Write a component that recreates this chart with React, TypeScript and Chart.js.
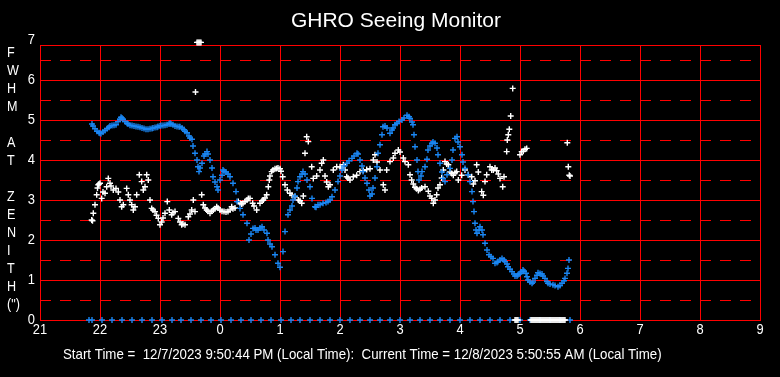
import { useEffect, useRef } from 'react';
import { Chart, registerables } from 'chart.js';

Chart.register(...registerables);

// Time axis: minutes after 21:00 (local time), 0..720 = 21:00..09:00
const hourLabels = ['21', '22', '23', '0', '1', '2', '3', '4', '5', '6', '7', '8', '9'];
const yLabels = ['0', '1', '2', '3', '4', '5', '6', '7'];
const halfLines = [0.5, 1.5, 2.5, 3.5, 4.5, 5.5, 6.5];
const yAxisTitle = ['F', 'W', 'H', 'M', '', 'A', 'T', '', 'Z', 'E', 'N', 'I', 'T', 'H', '(")'];
const titleText = 'GHRO Seeing Monitor';
const footerText = 'Start Time =  12/7/2023 9:50:44 PM (Local Time):  Current Time = 12/8/2023 5:50:55 AM (Local Time)';

// Blue series (FWHM, arcsec)
const blueT = [52, 53, 55, 57, 59, 60, 61, 63, 65, 67, 69, 70, 72, 74, 76, 78, 80, 81, 82, 83, 85, 87, 88, 90, 92, 94, 96, 98, 100, 102, 104, 106, 108, 110, 112, 113, 115, 117, 118, 120, 121, 123, 125, 127, 129, 130, 131, 133, 135, 137, 139, 140, 142, 144, 145, 147, 149, 150, 152, 153, 155, 157, 158, 159, 160, 162, 164, 165, 167, 168, 170, 172, 173, 175, 177, 178, 180, 182, 183, 184, 186, 188, 190, 193, 196, 197, 200, 203, 207, 209, 211, 213, 215, 216, 218, 220, 222, 224, 227, 228, 230, 232, 235, 238, 240, 243, 245, 248, 250, 252, 253, 255, 257, 258, 260, 262, 263, 265, 267, 270, 272, 275, 276, 278, 280, 283, 286, 288, 290, 292, 295, 298, 300, 302, 304, 307, 309, 312, 314, 317, 318, 320, 322, 323, 325, 327, 329, 330, 332, 333, 335, 337, 338, 340, 342, 343, 345, 347, 350, 352, 353, 355, 357, 359, 362, 364, 367, 369, 370, 372, 373, 374, 375, 377, 378, 379, 381, 382, 385, 387, 388, 390, 392, 393, 395, 397, 398, 400, 402, 403, 405, 407, 410, 412, 413, 415, 417, 418, 420, 422, 423, 425, 428, 430, 432, 433, 434, 435, 436, 437, 439, 440, 442, 443, 445, 447, 449, 451, 453, 455, 457, 458, 460, 462, 464, 465, 467, 468, 470, 472, 474, 475, 477, 478, 480, 481, 483, 484, 486, 487, 488, 490, 492, 493, 495, 497, 498, 500, 502, 503, 505, 507, 508, 510, 513, 515, 518, 520, 522, 524, 525, 527, 528, 529];
const blueV = [4.9, 4.85, 4.78, 4.72, 4.68, 4.67, 4.66, 4.7, 4.74, 4.78, 4.82, 4.85, 4.86, 4.87, 4.88, 4.96, 5.02, 5.07, 5.05, 5.02, 4.96, 4.92, 4.9, 4.87, 4.86, 4.85, 4.84, 4.83, 4.82, 4.8, 4.79, 4.77, 4.77, 4.78, 4.79, 4.8, 4.81, 4.82, 4.84, 4.85, 4.86, 4.86, 4.87, 4.88, 4.9, 4.92, 4.9, 4.88, 4.85, 4.84, 4.83, 4.83, 4.8, 4.76, 4.72, 4.68, 4.6, 4.55, 4.52, 4.35, 4.17, 4.0, 3.83, 3.71, 3.8, 3.92, 4.1, 4.15, 4.21, 4.15, 4.0, 3.8, 3.58, 3.45, 3.33, 3.25, 3.5, 3.62, 3.75, 3.72, 3.7, 3.65, 3.58, 3.42, 3.21, 2.96, 2.79, 2.63, 2.42, 2.0, 2.15, 2.29, 2.3, 2.25, 2.25, 2.3, 2.33, 2.25, 2.17, 2.0, 1.9, 1.83, 1.63, 1.42, 1.32, 1.71, 2.21, 2.63, 2.75, 2.85, 3.0, 3.1, 3.3, 3.46, 3.58, 3.65, 3.71, 3.65, 3.5, 3.33, 3.04, 2.83, 2.82, 2.88, 2.88, 2.92, 2.94, 2.96, 3.0, 3.08, 3.25, 3.46, 3.6, 3.75, 3.85, 3.92, 3.98, 4.04, 4.1, 4.17, 4.15, 4.0, 3.85, 3.71, 3.55, 3.42, 3.25, 3.1, 3.15, 3.3, 3.55, 3.83, 4.17, 4.38, 4.63, 4.83, 4.85, 4.8, 4.67, 4.75, 4.8, 4.88, 4.92, 4.96, 5.0, 5.05, 5.12, 5.08, 5.04, 4.95, 4.88, 4.63, 4.33, 4.0, 3.71, 3.5, 3.6, 3.71, 3.83, 4.02, 4.25, 4.35, 4.42, 4.45, 4.42, 4.3, 4.13, 3.92, 3.7, 3.54, 3.46, 3.63, 3.79, 4.0, 4.25, 4.54, 4.58, 4.45, 4.33, 4.13, 3.95, 3.79, 3.63, 3.46, 3.21, 2.96, 2.71, 2.42, 2.25, 2.17, 2.25, 2.33, 2.25, 2.13, 1.92, 1.75, 1.63, 1.58, 1.54, 1.42, 1.44, 1.46, 1.5, 1.54, 1.5, 1.46, 1.4, 1.33, 1.27, 1.21, 1.15, 1.1, 1.1, 1.13, 1.16, 1.2, 1.25, 1.22, 1.17, 1.08, 1.0, 0.95, 0.92, 0.95, 1.04, 1.12, 1.18, 1.16, 1.15, 1.1, 1.04, 0.96, 0.92, 0.9, 0.88, 0.86, 0.83, 0.86, 0.92, 0.98, 1.04, 1.17, 1.29, 1.5];

// Blue readings logged as zero
const blueZeroT = [49, 52, 62, 72, 82, 92, 102, 112, 122, 132, 141, 151, 161, 171, 181, 191, 201, 211, 221, 231, 241, 251, 260, 270, 280, 290, 300, 310, 320, 330, 340, 350, 360, 370, 380, 390, 400, 410, 420, 430, 440, 450, 460, 470, 480, 490, 500, 510, 520, 530];

// White series (FWHM, arcsec)
const whiteT = [51.7, 52.5, 53.3, 55, 56.7, 57.5, 58.3, 59, 60, 61.7, 63, 65, 66.7, 68.3, 70, 71, 73.3, 76, 78.3, 80, 81.7, 83.3, 86.7, 88.3, 90, 91.7, 93.3, 95, 96.7, 99.3, 101.7, 103.3, 105, 106.7, 108.3, 110, 111.7, 113, 115, 116.5, 118.3, 120, 121.7, 123, 125, 127.3, 129.3, 131.7, 133, 135, 138.3, 140, 141.7, 143, 145, 148.3, 150, 151.7, 153.3, 155, 155.5, 157, 158, 159, 160, 161, 161.7, 163.3, 165, 166.7, 168, 170, 171.5, 173.3, 175, 176.7, 178, 180, 182, 184, 186, 188, 190, 191.7, 193, 195, 198.3, 200, 201.7, 203, 205, 207, 208.3, 210, 212.7, 214, 216.7, 220, 222, 223.3, 225, 226.7, 228.3, 229.3, 230, 231.7, 233, 235, 236.7, 238, 240, 241, 242.7, 245, 247.3, 250, 252, 255, 258.3, 260, 261.7, 263.3, 265, 266.7, 268.3, 271.7, 273.3, 276.7, 280, 281.7, 283.3, 285, 286.7, 288.3, 290, 293.3, 296.7, 300, 301.7, 303.3, 305, 306.7, 308, 310, 313.3, 316.7, 320, 323.3, 326.7, 330, 333.3, 335, 337, 340, 343.3, 345, 346.7, 350, 353.3, 355, 358.3, 360, 363.3, 365, 368.3, 370, 371.7, 373.3, 375, 376.5, 378.3, 380, 381.7, 385, 388.3, 390, 391.7, 393.3, 395, 396.7, 398, 400, 401.7, 403.3, 405, 406.7, 408.3, 410, 411.7, 413.3, 415, 416.7, 418.3, 421.7, 425, 428.3, 431.7, 433.3, 435, 436.7, 438.3, 441.7, 443.3, 445, 446.7, 450, 451.7, 453.3, 455, 456.7, 458.3, 460, 462.7, 464, 466.7, 467.3, 468.3, 469.3, 470.7, 472.7, 480, 481.7, 483.3, 485, 486.7, 527.3, 528.3, 529.3, 530];
const whiteV = [2.5, 2.48, 2.67, 2.88, 3.13, 3.3, 3.38, 3.4, 3.42, 3.04, 3.2, 3.17, 3.33, 3.54, 3.42, 3.35, 3.25, 3.29, 3.2, 3.0, 2.83, 2.88, 3.29, 3.13, 3.0, 2.88, 2.75, 2.83, 3.13, 3.63, 3.46, 3.25, 3.33, 3.63, 3.5, 3.0, 2.79, 2.75, 2.71, 2.62, 2.54, 2.38, 2.45, 2.55, 2.67, 2.96, 2.75, 2.63, 2.68, 2.71, 2.54, 2.45, 2.38, 2.4, 2.38, 2.58, 2.65, 2.75, 3.0, 2.71, 5.7, 6.94, 6.94, 6.94, 6.94, 6.94, 3.13, 2.88, 2.8, 2.75, 2.72, 2.67, 2.72, 2.75, 2.78, 2.83, 2.8, 2.75, 2.72, 2.71, 2.7, 2.71, 2.75, 2.83, 2.78, 2.8, 2.96, 2.92, 2.9, 2.92, 2.96, 3.0, 3.04, 3.04, 2.92, 2.85, 2.75, 2.92, 2.98, 3.0, 3.05, 3.13, 3.33, 3.5, 3.6, 3.71, 3.75, 3.78, 3.79, 3.8, 3.78, 3.72, 3.58, 3.38, 3.25, 3.17, 3.12, 3.08, 3.0, 2.98, 2.92, 3.1, 4.17, 4.58, 4.46, 3.83, 3.54, 3.6, 3.75, 3.92, 4.0, 3.6, 3.45, 3.33, 3.38, 3.75, 3.83, 3.83, 3.8, 3.88, 3.75, 3.58, 3.55, 3.5, 3.58, 3.62, 3.71, 3.74, 3.76, 3.78, 4.0, 4.13, 3.95, 3.75, 3.38, 3.25, 3.75, 3.96, 4.05, 4.17, 4.25, 4.2, 4.05, 3.96, 3.88, 3.63, 3.5, 3.4, 3.32, 3.28, 3.24, 3.27, 3.3, 3.33, 3.22, 3.1, 3.04, 2.92, 3.0, 3.13, 3.3, 3.38, 3.55, 3.75, 3.96, 3.9, 3.88, 3.7, 3.66, 3.62, 3.68, 3.71, 3.5, 3.62, 3.75, 3.63, 3.58, 3.4, 3.48, 3.88, 3.7, 3.21, 3.12, 3.46, 3.63, 3.83, 3.75, 3.75, 3.8, 3.73, 3.65, 3.54, 3.33, 3.58, 4.21, 4.5, 4.63, 4.77, 5.1, 5.79, 4.13, 4.21, 4.22, 4.27, 4.29, 4.43, 3.83, 3.62, 3.6];

// White readings logged as zero
const whiteZeroT = [475, 476, 477, 478, 491, 492, 493, 494, 495, 496, 497, 498, 499, 500, 501, 502, 503, 504, 505, 506, 507, 508, 509, 510, 511, 512, 513, 514, 515, 516, 517, 518, 519, 520, 521, 522, 523, 524, 525];

const BLUE = '#1a86f2';
const WHITE = '#ffffff';
const RED = '#ff0000';
const SANS = '"Liberation Sans", Arial, sans-serif';

// draw horizontally condensed text (Arial-Narrow look)
function narrowText(ctx: any, s: string, x: number, y: number, sx: number) {
  ctx.save();
  ctx.translate(x, y);
  ctx.scale(sx, 1);
  ctx.fillText(s, 0, 0);
  ctx.restore();
}

const gridPlugin = {
  id: 'ghroHalfGrid',
  beforeDatasetsDraw(chart: any) {
    const ctx = chart.ctx;
    const { left, right } = chart.chartArea;
    const ys = chart.scales.y;
    ctx.save();
    ctx.strokeStyle = RED;
    ctx.lineWidth = 1;
    ctx.setLineDash([11, 9]);
    halfLines.forEach((v) => {
      const py = Math.round(ys.getPixelForValue(v)) + 0.5;
      ctx.beginPath();
      ctx.moveTo(left, py);
      ctx.lineTo(right, py);
      ctx.stroke();
    });
    ctx.restore();
  },
};

const textPlugin = {
  id: 'ghroText',
  afterDraw(chart: any) {
    const ctx = chart.ctx;
    const area = chart.chartArea;
    const xs = chart.scales.x;
    const ys = chart.scales.y;
    ctx.save();
    ctx.fillStyle = '#ffffff';
    // title
    ctx.font = `21px ${SANS}`;
    ctx.textAlign = 'center';
    ctx.textBaseline = 'middle';
    ctx.fillText(titleText, 396, 21);
    // y axis title, one letter per line
    ctx.font = `14px ${SANS}`;
    ctx.textAlign = 'left';
    yAxisTitle.forEach((s, i) => {
      if (s) narrowText(ctx, s, 7, 53 + i * 18, 0.9);
    });
    // tick labels placed with the scales
    ctx.font = `15px ${SANS}`;
    ctx.textAlign = 'center';
    ctx.textBaseline = 'middle';
    hourLabels.forEach((lab, i) => {
      narrowText(ctx, lab, xs.getPixelForValue(i * 60), area.bottom + 10, 0.86);
    });
    ctx.textAlign = 'right';
    yLabels.forEach((lab, i) => {
      narrowText(ctx, lab, area.left - 5, ys.getPixelForValue(i), 0.86);
    });
    // footer
    ctx.textAlign = 'left';
    narrowText(ctx, footerText, 63, 355, 0.886);
    ctx.restore();
  },
};

export default function App() {
  const ref = useRef<HTMLCanvasElement>(null);
  useEffect(() => {
    document.body.style.margin = '0';
    document.body.style.background = '#000';
    document.documentElement.style.background = '#000';
    const pts = (t: number[], v: number[]) => t.map((x, i) => ({ x, y: v[i] }));
    const zeros = (t: number[]) => t.map((x) => ({ x, y: 0 }));
    const common = { pointStyle: 'cross', pointRadius: 3, pointBorderWidth: 1.4, showLine: false, clip: false };
    const chart = new Chart(ref.current!, {
      type: 'scatter',
      data: {
        datasets: [
          { ...common, label: 'White zero', data: zeros(whiteZeroT), borderColor: WHITE, backgroundColor: WHITE },
          { ...common, label: 'Blue', data: pts(blueT, blueV), borderColor: BLUE, backgroundColor: BLUE },
          { ...common, label: 'Blue zero', data: zeros(blueZeroT), borderColor: BLUE, backgroundColor: BLUE },
          { ...common, label: 'White', data: pts(whiteT, whiteV), borderColor: WHITE, backgroundColor: WHITE },
        ] as any,
      },
      options: {
        responsive: false,
        animation: false,
        events: [],
        layout: { padding: { top: 45, right: 20, left: 0, bottom: 0 } },
        plugins: { legend: { display: false }, tooltip: { enabled: false }, title: { display: false } },
        scales: {
          x: {
            type: 'linear',
            min: 0,
            max: 720,
            afterBuildTicks: (s: any) => {
              s.ticks = hourLabels.map((_, i) => ({ value: i * 60 }));
            },
            afterFit: (s: any) => {
              s.height = 57;
            },
            ticks: { display: false, autoSkip: false },
            grid: { color: RED, lineWidth: 1, drawTicks: false },
            border: { color: RED, width: 1 },
          },
          y: {
            type: 'linear',
            min: 0,
            max: 6.875,
            afterBuildTicks: (s: any) => {
              const t: any[] = yLabels.slice(0, 7).map((_, i) => ({ value: i }));
              t.push({ value: 6.875 });
              s.ticks = t;
            },
            afterFit: (s: any) => {
              s.width = 40;
            },
            ticks: { display: false, autoSkip: false },
            grid: { drawTicks: false, lineWidth: 1, color: RED },
            border: { color: RED, width: 1 },
          },
        },
      } as any,
      plugins: [gridPlugin, textPlugin],
    });
    return () => chart.destroy();
  }, []);
  return (
    <div style={{ width: 780, height: 377, background: '#000' }}>
      <canvas ref={ref} width={780} height={377} style={{ display: 'block' }} />
    </div>
  );
}
